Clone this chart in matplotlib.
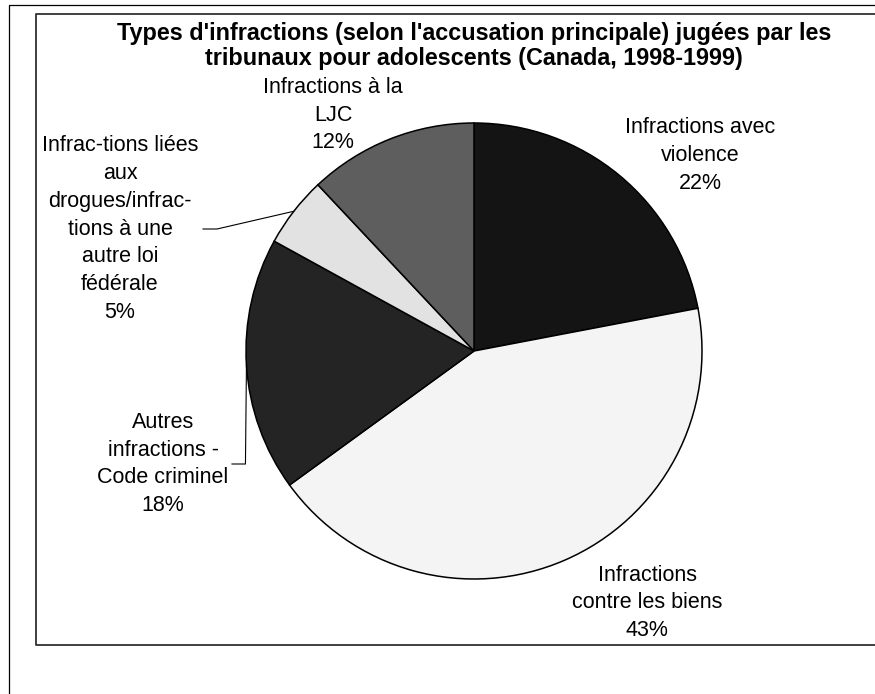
import numpy as np
import matplotlib
matplotlib.use("Agg")
import matplotlib.pyplot as plt

plt.rcParams['font.family'] = ['Liberation Sans', 'DejaVu Sans']

title_lines = ["Types d'infractions (selon l'accusation principale) jugées par les",
               "tribunaux pour adolescents (Canada, 1998-1999)"]
categories = [
    "Infractions avec\nviolence",
    "Infractions\ncontre les biens",
    "Autres\ninfractions -\nCode criminel",
    "Infrac-tions liées\naux\ndrogues/infrac-\ntions à une\nautre loi\nfédérale",
    "Infractions à la\nLJC",
]
shares = [22, 43, 18, 5, 12]
colors = ['#141414', '#f4f4f4', '#242424', '#e2e2e2', '#5e5e5e']

# label block centres in pixels (x, y from top)
label_pos = [(700, 155.5), (647, 603), (163, 464), (120, 229), (333, 115)]
line_step = 27.7

W, H = 875, 694
fig = plt.figure(figsize=(W / 100, H / 100), dpi=100)
ax = fig.add_axes([0, 0, 1, 1])

cx, cy, r = 474, H - 351, 228
wedges, _ = ax.pie(shares, colors=colors, startangle=90, counterclock=False,
                   center=(cx, cy), radius=r,
                   wedgeprops=dict(edgecolor='black', linewidth=1.1))
ax.set_xlim(0, W)
ax.set_ylim(0, H)
ax.set_aspect('equal')
ax.axis('off')

# frames
ax.plot([9, 9, W], [0, H - 5, H - 5], color='black', lw=0.9)
ax.plot([W, 36, 36, W], [H - 14, H - 14, H - 645, H - 645], color='#303030', lw=1.3)

for i, line in enumerate(title_lines):
    ax.text(474, H - 33 - i * 25, line, ha='center', va='center',
            fontsize=16.8, fontweight='bold')

def block(x, y, text):
    lines = text.split("\n")
    n = len(lines)
    for i, line in enumerate(lines):
        ly = y + (i - (n - 1) / 2) * line_step
        ax.text(x, H - ly, line, ha='center', va='center', fontsize=15.5)

for name, pct, (lx, ly) in zip(categories, shares, label_pos):
    block(lx, ly, f"{name}\n{pct}%")

# leader lines for the two labels that sit away from their slice
def edge_point(w):
    mid = np.deg2rad((w.theta1 + w.theta2) / 2)
    return cx + r * np.cos(mid), cy + r * np.sin(mid)

ex, ey = edge_point(wedges[3])
ax.plot([203, 217, ex], [H - 229, H - 229, ey], color='black', lw=0.8)
ex, ey = edge_point(wedges[2])
ax.plot([232, ex - 1, ex], [H - 464, H - 464, ey], color='black', lw=0.8)

fig.savefig("out.png", dpi=100)
